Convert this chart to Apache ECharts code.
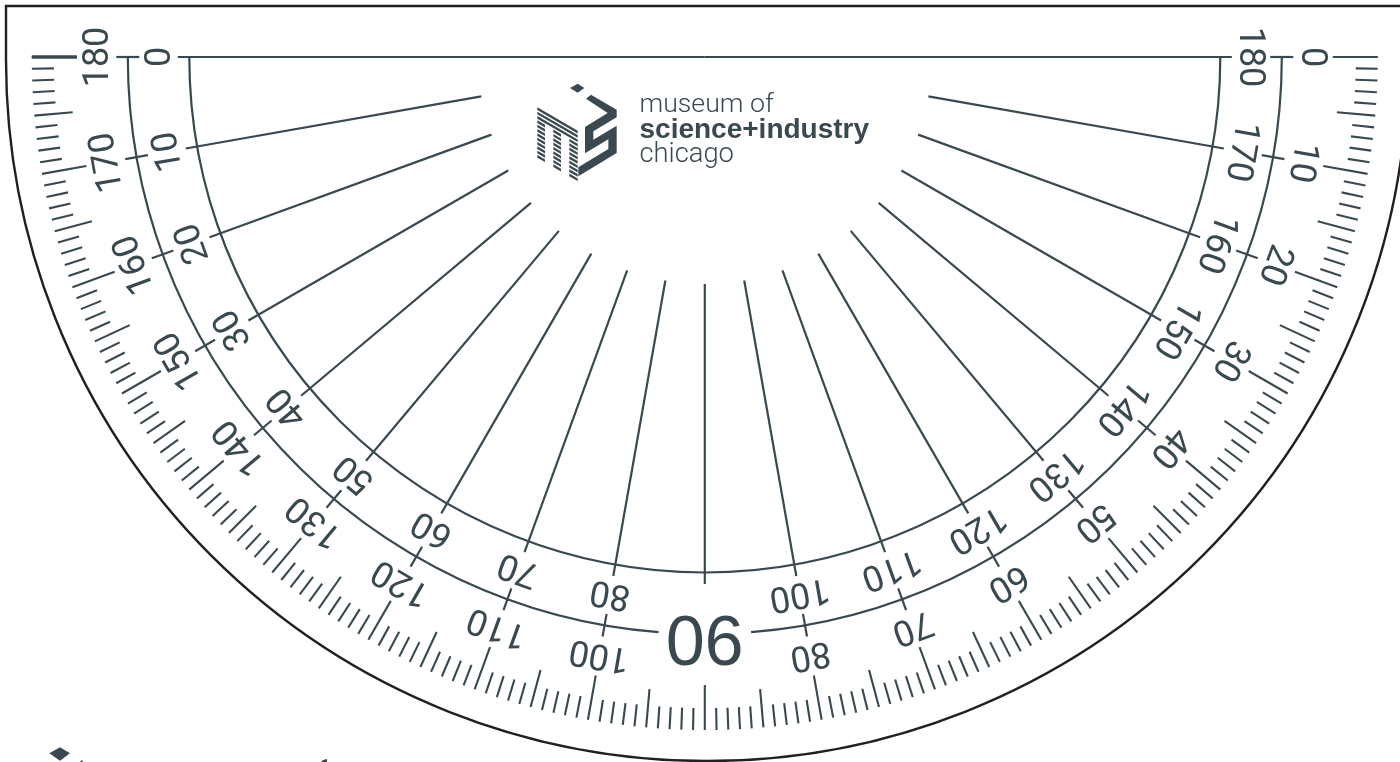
<!DOCTYPE html>
<html><head><meta charset="utf-8">
<style>html,body{margin:0;padding:0;background:#fff;overflow:hidden}#c{width:1400px;height:762px}</style>
<script src="https://cdn.jsdelivr.net/npm/echarts@6/dist/echarts.min.js"></script>
</head><body><div id="c"></div>
<script>
// Scale marks, in degrees from the left end of the protractor
const tenDegreeMarks = [0,10,20,30,40,50,60,70,80,90,100,110,120,130,140,150,160,170,180];
const fiveDegreeMarks = [5,15,25,35,45,55,65,75,85,95,105,115,125,135,145,155,165,175];
const oneDegreeMarks = [1,2,3,4,6,7,8,9,11,12,13,14,16,17,18,19,21,22,23,24,26,27,28,29,31,32,33,34,36,37,38,39,41,42,43,44,46,47,48,49,51,52,53,54,56,57,58,59,61,62,63,64,66,67,68,69,71,72,73,74,76,77,78,79,81,82,83,84,86,87,88,89,91,92,93,94,96,97,98,99,101,102,103,104,106,107,108,109,111,112,113,114,116,117,118,119,121,122,123,124,126,127,128,129,131,132,133,134,136,137,138,139,141,142,143,144,146,147,148,149,151,152,153,154,156,157,158,159,161,162,163,164,166,167,168,169,171,172,173,174,176,177,178,179];
const spokeMarks = [10,20,30,40,50,60,70,80,90,100,110,120,130,140,150,160,170];
const ringTickMarks = [10,20,30,40,50,60,70,80,100,110,120,130,140,150,160,170];
const innerScaleLabels = [0,10,20,30,40,50,60,70,80,100,110,120,130,140,150,160,170,180];
const outerScaleLabels = [180,170,160,150,140,130,120,110,100,80,70,60,50,40,30,20,10,0];
const centreLabel = [90];
const wordmark = ['museum of','science+industry','chicago'];

const ink = '#3a494f', edge = '#231f20';
const labelFont = 'Roboto, "Liberation Sans", Arial, sans-serif';
const centreFont = '"Liberation Sans", Arial, sans-serif';
const D2R = Math.PI / 180;

function spokes(name, degs, r0, r1, w, polarIndex) {
  return { type:'custom', name, coordinateSystem:'polar', polarIndex:polarIndex||0, silent:true, clip:false,
    data: degs.map(d => [r0, d, r1]),
    renderItem: (p, api) => {
      const a = api.coord([api.value(0), api.value(1)]), b = api.coord([api.value(2), api.value(1)]);
      return { type:'line', shape:{x1:a[0],y1:a[1],x2:b[0],y2:b[1]}, style:{stroke:ink, lineWidth:w, fill:null} };
    } };
}
function arcs(name, rows, stroke, w, polarIndex) {
  return { type:'custom', name, coordinateSystem:'polar', polarIndex:polarIndex||0, silent:true, clip:false,
    data: rows,
    renderItem: (p, api) => {
      const c = api.coord([0, 0]), e = api.coord([api.value(0), 0]);
      return { type:'arc', shape:{cx:c[0],cy:c[1],r:Math.hypot(e[0]-c[0],e[1]-c[1]),
          startAngle:Math.PI-api.value(1)*D2R,endAngle:Math.PI-api.value(2)*D2R,clockwise:false},
        style:{stroke, lineWidth:w, fill:'none'} };
    } };
}
function labels(name, degs, texts, r, size, family) {
  return { type:'custom', name, coordinateSystem:'polar', silent:true, clip:false,
    data: degs.map(d => [r, d]),
    renderItem: (p, api) => {
      const i = p.dataIndex, deg = degs[i];
      const a = api.coord([r, deg]);
      return { type:'text', x:a[0], y:a[1], rotation:(90+deg)*D2R,
        style:{text:String(texts[i]), textAlign:'center', textVerticalAlign:'middle', fontSize:size, fontFamily:family, fill:ink} };
    } };
}
function poly(points, fill) { return {type:'polygon', silent:true, shape:{points}, style:{fill}}; }

// logo drawing (decoration, not data)
const lx = z => 525 + z/3, ly = z => 78 + z/3;
const zp = pts => pts.map(p => [lx(p[0]), ly(p[1])]);
const logo = [];
logo.push(poly(zp([[135,30],[158,17],[178,30],[158,44]]), ink));
logo.push(poly(zp([[183,62],[198,50],[275,95],[275,118],[205,160],[205,185],[275,143],[275,225],[160,295],[160,268],[250,213],[250,184],[180,226],[180,147],[248,105]]), ink));
const stripeSlope = 0.58, stripePitch = 13, stripeThick = 8, stripeTop = 88;
function stripe(x0, x1, k) {
  const y0 = stripeTop + stripeSlope*(x0-37) + stripePitch*k, y1 = stripeTop + stripeSlope*(x1-37) + stripePitch*k;
  logo.push(poly(zp([[x0,y0],[x1,y1],[x1,y1+stripeThick],[x0,y0+stripeThick]]), ink));
}
[0,1,2].forEach(k => stripe(37,158,k));
[3,4,5,6,7,8,9,10,11].forEach(k => { stripe(37,60,k); stripe(85,108,k); stripe(133,158,k); });
logo.push(poly([[49.3,753.3],[60,747.3],[70,753.3],[60,760.7]], ink));
logo.push(poly([[80,762],[81.5,760],[83.3,762]], ink));
logo.push(poly([[321,762],[323,760],[327,759],[327,762]], ink));

const chart = echarts.init(document.getElementById('c'), null, {renderer:'canvas'});
const angleAxisBase = {min:0,max:360,startAngle:180,clockwise:false,show:false,axisLine:{show:false},axisTick:{show:false},axisLabel:{show:false},splitLine:{show:false}};
chart.setOption({
  animation:false,
  backgroundColor:'#fff',
  polar:[{center:[704.8,57],radius:673},{center:[707,60],radius:701}],
  radiusAxis:[{polarIndex:0,min:0,max:673,show:false},{polarIndex:1,min:0,max:701,show:false}],
  angleAxis:[Object.assign({polarIndex:0},angleAxisBase),Object.assign({polarIndex:1},angleAxisBase)],
  graphic:{elements:[
    {type:'polyline',silent:true,shape:{points:[[6,60],[6,6],[1400,6]]},style:{stroke:edge,lineWidth:2.4,fill:'none'}},
    ...logo,
    {type:'text',silent:true,x:639.5,y:119,style:{text:wordmark[0],fontFamily:'Roboto',fontWeight:300,fontSize:26.7,fill:ink,textVerticalAlign:'bottom'}},
    {type:'text',silent:true,x:639.5,y:144,style:{text:wordmark[1],fontFamily:'"Liberation Sans"',fontWeight:'bold',fontSize:28,fill:ink,textVerticalAlign:'bottom'}},
    {type:'text',silent:true,x:639.5,y:169,style:{text:wordmark[2],fontFamily:'Roboto',fontWeight:300,fontSize:27.3,fill:ink,textVerticalAlign:'bottom'}}
  ]},
  series:[
    arcs('outline',[[701,0,180]],edge,2.4,1),
    arcs('outer ring',[[577,0,85.4],[577,94.6,180]],ink,2.2),
    arcs('inner ring',[[515.5,0,180]],ink,2.2),
    spokes('one degree',oneDegreeMarks,651,673,2.1),
    spokes('five degree',fiveDegreeMarks,634.5,673,2.1),
    spokes('ten degree',tenDegreeMarks,628,673,2.1),
    spokes('zero heavy',[0],628,673,3.4),
    spokes('spokes',spokeMarks,227,527,2.2),
    spokes('ring ticks',ringTickMarks,565.5,588.5,2.2),
    spokes('ring ends',[0,180],565.5,588.5,2.2),
    spokes('base line',[0,180],0,527,2),
    labels('inner scale',innerScaleLabels,innerScaleLabels,544,36,labelFont),
    labels('outer scale',outerScaleLabels.map(v=>180-v),outerScaleLabels,606,36,labelFont),
    labels('centre',centreLabel,centreLabel,578.5,70,centreFont)
  ]
});
</script></body></html>
